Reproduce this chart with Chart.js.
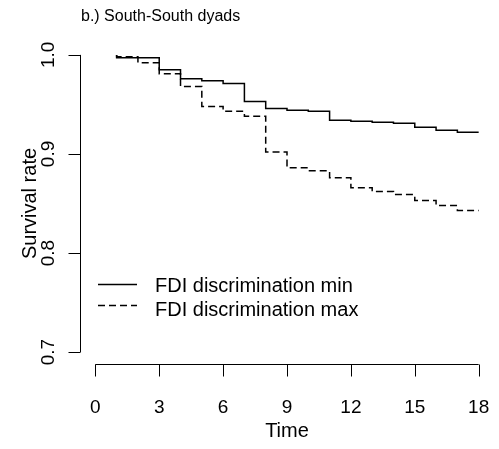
<!DOCTYPE html>
<html>
<head>
<meta charset="utf-8">
<script src="https://cdn.jsdelivr.net/npm/chart.js@4"></script>
<style>
  body { margin: 0; background: #fff; }
  #wrap { width: 499px; height: 449px; }
</style>
</head>
<body>
<div id="wrap"><canvas id="survChart" width="499" height="449"></canvas></div>
<script>
// time points (first one doubled so the curve starts at 1.0)
const times = [1, 1, 2, 3, 4, 5, 6, 7, 8, 9, 10, 11, 12, 13, 14, 15, 16, 17, 18];
const survMin = [1.0, 0.997, 0.997, 0.985, 0.976, 0.974, 0.971, 0.953, 0.946, 0.944, 0.943, 0.934, 0.933, 0.932, 0.931, 0.927, 0.924, 0.922, 0.922];
const survMax = [1.0, 0.998, 0.992, 0.981, 0.968, 0.948, 0.943, 0.938, 0.902, 0.886, 0.883, 0.876, 0.866, 0.862, 0.859, 0.853, 0.848, 0.843, 0.843];
const xTicks = [0, 3, 6, 9, 12, 15, 18];
const yTicks = [0.7, 0.8, 0.9, 1.0];
const seriesNames = ["FDI discrimination min", "FDI discrimination max"];
const titleText = "b.) South-South dyads";

function toPoints(vals) {
    let pts = [];
    for (let i = 0; i < times.length; i++) {
        pts.push({x: times[i], y: vals[i]});
    }
    return pts;
}

// R style axes, legend and title
const rAxes = {
    id: 'rAxes',
    afterDraw(chart) {
        const ctx = chart.ctx;
        const xs = chart.scales.x, ys = chart.scales.y;
        const area = chart.chartArea;
        ctx.save();
        ctx.strokeStyle = '#000';
        ctx.fillStyle = '#000';
        ctx.lineWidth = 1;

        // x axis
        let y0 = Math.round(area.bottom) + 0.5;
        let xa = xs.getPixelForValue(xTicks[0]), xb = xs.getPixelForValue(xTicks[xTicks.length - 1]);
        ctx.beginPath();
        ctx.moveTo(xa, y0); ctx.lineTo(xb, y0);
        xTicks.forEach(t => {
            let px = Math.round(xs.getPixelForValue(t)) + 0.5;
            ctx.moveTo(px, y0); ctx.lineTo(px, y0 + 12);
        });
        ctx.stroke();
        ctx.font = '19px "Liberation Sans", Arial, sans-serif';
        ctx.textAlign = 'center';
        ctx.textBaseline = 'alphabetic';
        xTicks.forEach(t => ctx.fillText(String(t), xs.getPixelForValue(t), 413));
        ctx.font = '20px "Liberation Sans", Arial, sans-serif';
        ctx.fillText('Time', (xa + xb) / 2, 437);

        // y axis
        let x0 = Math.round(area.left) + 0.5;
        let ya = ys.getPixelForValue(yTicks[0]), yb = ys.getPixelForValue(yTicks[yTicks.length - 1]);
        ctx.beginPath();
        ctx.moveTo(x0, ya); ctx.lineTo(x0, yb);
        yTicks.forEach(t => {
            let py = Math.round(ys.getPixelForValue(t)) + 0.5;
            ctx.moveTo(x0, py); ctx.lineTo(x0 - 12, py);
        });
        ctx.stroke();
        ctx.font = '19px "Liberation Sans", Arial, sans-serif';
        yTicks.forEach(t => {
            ctx.save();
            ctx.translate(54, ys.getPixelForValue(t));
            ctx.rotate(-Math.PI / 2);
            ctx.fillText(t.toFixed(1), 0, 0);
            ctx.restore();
        });
        ctx.save();
        ctx.font = '20px "Liberation Sans", Arial, sans-serif';
        ctx.translate(36, (area.top + area.bottom) / 2);
        ctx.rotate(-Math.PI / 2);
        ctx.fillText('Survival rate', 0, 0);
        ctx.restore();

        // legend
        ctx.lineWidth = 1.5;
        ctx.beginPath();
        ctx.moveTo(98, 284.5); ctx.lineTo(137, 284.5);
        ctx.stroke();
        ctx.setLineDash([7, 4]);
        ctx.beginPath();
        ctx.moveTo(98, 305.5); ctx.lineTo(137, 305.5);
        ctx.stroke();
        ctx.setLineDash([]);
        ctx.textAlign = 'left';
        ctx.font = '20px "Liberation Sans", Arial, sans-serif';
        ctx.fillText(seriesNames[0], 155, 292);
        ctx.fillText(seriesNames[1], 155, 316);

        // title
        ctx.font = '16px "Liberation Sans", Arial, sans-serif';
        ctx.fillText(titleText, 81, 21);
        ctx.restore();
    }
};

let ctx = document.getElementById('survChart').getContext('2d');
let survChart = new Chart(ctx, {
    type: 'scatter',
    data: {
        datasets: [{
            label: seriesNames[0],
            data: toPoints(survMin),
            showLine: true,
            stepped: true,
            borderColor: '#000',
            borderWidth: 1.5,
            pointRadius: 0
        }, {
            label: seriesNames[1],
            data: toPoints(survMax),
            showLine: true,
            stepped: true,
            borderColor: '#000',
            borderWidth: 1.5,
            borderDash: [7, 4],
            pointRadius: 0
        }]
    },
    options: {
        responsive: false,
        animation: false,
        events: [],
        layout: {
            padding: {left: 80, right: 5, top: 43, bottom: 85}
        },
        plugins: {
            legend: {display: false},
            tooltip: {enabled: false}
        },
        scales: {
            x: {type: 'linear', min: -0.72, max: 18.72, display: false},
            y: {type: 'linear', min: 0.688, max: 1.012, display: false}
        }
    },
    plugins: [rAxes]
});
</script>
</body>
</html>
